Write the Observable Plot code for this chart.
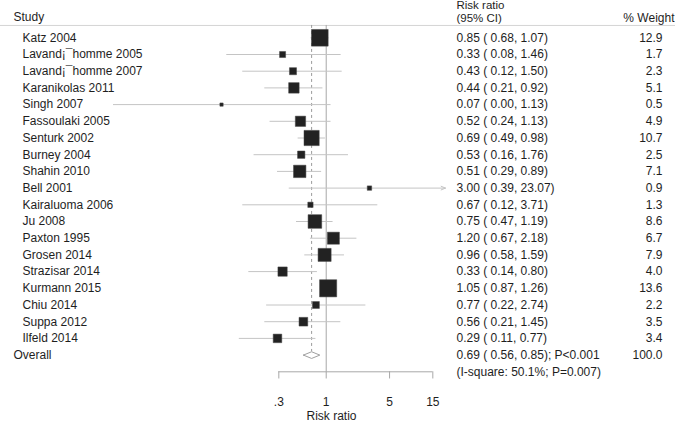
<!DOCTYPE html>
<html>
<head>
<meta charset="utf-8">
<script src="https://cdn.jsdelivr.net/npm/d3@7"></script>
<script src="https://cdn.jsdelivr.net/npm/@observablehq/plot@0.6"></script>
<style>
  html, body { margin: 0; padding: 0; background: #fff; }
  #chart svg { display: block; }
</style>
</head>
<body>
<div id="chart"></div>
<script>
// ---- data ----
const studies = ["Katz 2004","Lavand¡¯homme 2005","Lavand¡¯homme 2007","Karanikolas 2011","Singh 2007","Fassoulaki 2005","Senturk 2002","Burney 2004","Shahin 2010","Bell 2001","Kairaluoma 2006","Ju 2008","Paxton 1995","Grosen 2014","Strazisar 2014","Kurmann 2015","Chiu 2014","Suppa 2012","Ilfeld 2014"];
const rr     = [0.85,0.33,0.43,0.44,0.07,0.52,0.69,0.53,0.51,3.00,0.67,0.75,1.20,0.96,0.33,1.05,0.77,0.56,0.29];
const lower  = [0.68,0.08,0.12,0.21,0.00,0.24,0.49,0.16,0.29,0.39,0.12,0.47,0.67,0.58,0.14,0.87,0.22,0.21,0.11];
const upper  = [1.07,1.46,1.50,0.92,1.13,1.13,0.98,1.76,0.89,23.07,3.71,1.19,2.18,1.59,0.80,1.26,2.74,1.45,0.77];
const weight = [12.9,1.7,2.3,5.1,0.5,4.9,10.7,2.5,7.1,0.9,1.3,8.6,6.7,7.9,4.0,13.6,2.2,3.5,3.4];

const overallLabel = "Overall";
const overall = {rr: 0.69, lo: 0.56, hi: 0.85, weight: "100.0"};
const overallText = "0.69 ( 0.56, 0.85); P<0.001";
const heteroText = "(I-square: 50.1%; P=0.007)";

const tickValues = [0.3, 1, 5, 15];
const tickLabels = [".3", "1", "5", "15"];
const axisTitle = "Risk ratio";
const headerStudy = "Study";
const headerRR = ["Risk ratio", "(95% CI)"];
const headerWeight = "% Weight";

// plot window of the log axis (CIs beyond it are clipped)
const xMin = 0.0045, xMax = 20.7;

// ---- derived table ----
const rows = studies.map((s, i) => ({
  study: s, row: i, rr: rr[i], lo: lower[i], hi: upper[i], w: weight[i],
  x1: Math.max(lower[i], xMin), x2: Math.min(upper[i], xMax),
  clippedHi: upper[i] > xMax,
  rrText: `${rr[i].toFixed(2)} ( ${lower[i].toFixed(2)}, ${upper[i].toFixed(2)})`,
  wText: weight[i].toFixed(1)
}));
const overallRow = studies.length;       // 19
const axisRow = overallRow + 1;          // 20
const diamond = [
  {x: overall.lo, y: overallRow},
  {x: overall.rr, y: overallRow - 0.2},
  {x: overall.hi, y: overallRow},
  {x: overall.rr, y: overallRow + 0.2},
  {x: overall.lo, y: overallRow}
];
const headerRow = -0.74;
const ticks = tickValues.map((v, i) => ({v, label: tickLabels[i]}));

const font = "'Liberation Sans', Arial, Helvetica, sans-serif";
const ink = "#1e1e1e";

const chart = Plot.plot({
  width: 675,
  height: 422,
  margin: 0,
  style: {fontFamily: font, fontSize: "12px", background: "#fff", color: ink},
  x: {type: "log", domain: [xMin, xMax], range: [113, 445], axis: null},
  y: {type: "linear", domain: [0, axisRow], range: [37.3, 371.3], axis: null},
  r: {type: "sqrt", domain: [0, 13.6], range: [0, 9.68]},
  marks: [
    // header separator
    Plot.ruleY([headerRow], {stroke: "#d4d4d4", strokeWidth: 1}),
    // header texts
    Plot.text([headerStudy], {frameAnchor: "left", y: [-1.23], dx: 13, textAnchor: "start", fill: ink, fontSize: 12}),
    Plot.text([headerRR[0]], {frameAnchor: "left", y: [-1.96], dx: 456, textAnchor: "start", fill: ink, fontSize: 11.5}),
    Plot.text([headerRR[1]], {frameAnchor: "left", y: [-1.15], dx: 456, textAnchor: "start", fill: ink, fontSize: 11.5}),
    Plot.text([headerWeight], {frameAnchor: "right", y: [-1.17], dx: -1, textAnchor: "end", fill: ink, fontSize: 12}),
    // reference line at 1
    Plot.ruleX([1], {y1: headerRow, y2: axisRow, stroke: "#a8a8a8", strokeWidth: 1}),
    // dashed line at overall estimate
    Plot.ruleX([overall.rr], {y1: headerRow, y2: overallRow - 0.2, stroke: "#9a9a9a", strokeWidth: 1, strokeDasharray: "3,3"}),
    // CI lines
    Plot.ruleY(rows.filter(d => !d.clippedHi), {y: "row", x1: "x1", x2: "x2", stroke: "#c4c4c4", strokeWidth: 1}),
    Plot.arrow(rows.filter(d => d.clippedHi), {x1: "x1", x2: "x2", y1: "row", y2: "row", stroke: "#c4c4c4", strokeWidth: 1, headLength: 7, headAngle: 45}),
    // squares
    Plot.dot(rows, {x: "rr", y: "row", r: "w", symbol: "square", fill: "#222", stroke: "#444", strokeWidth: 0.5}),
    // overall diamond
    Plot.line(diamond, {x: "x", y: "y", stroke: "#a0a0a0", strokeWidth: 1}),
    // study labels
    Plot.text(rows, {frameAnchor: "left", y: "row", text: "study", dx: 22, textAnchor: "start", fill: ink, fontSize: 12}),
    Plot.text([overallLabel], {frameAnchor: "left", y: [overallRow], dx: 13, textAnchor: "start", fill: ink, fontSize: 12}),
    // RR column
    Plot.text(rows, {frameAnchor: "left", y: "row", text: "rrText", dx: 456, textAnchor: "start", fill: ink, fontSize: 12}),
    Plot.text([overallText], {frameAnchor: "left", y: [overallRow], dx: 456, textAnchor: "start", fill: ink, fontSize: 12}),
    Plot.text([heteroText], {frameAnchor: "left", y: [axisRow], dx: 456, textAnchor: "start", fill: ink, fontSize: 12}),
    // weight column
    Plot.text(rows, {frameAnchor: "right", y: "row", text: "wText", dx: -13, textAnchor: "end", fill: ink, fontSize: 12}),
    Plot.text([overall.weight], {frameAnchor: "right", y: [overallRow], dx: -13, textAnchor: "end", fill: ink, fontSize: 12}),
    // x axis
    Plot.ruleY([axisRow], {x1: tickValues[0], x2: tickValues[tickValues.length - 1], stroke: "#a8a8a8", strokeWidth: 1}),
    Plot.ruleX(ticks, {x: "v", y1: axisRow, y2: axisRow + 0.43, stroke: "#a8a8a8", strokeWidth: 1}),
    Plot.text(ticks, {x: "v", y: axisRow + 1.82, text: "label", textAnchor: "middle", fill: ink, fontSize: 12}),
    Plot.text([axisTitle], {frameAnchor: "left", y: [axisRow + 2.63], dx: 331, textAnchor: "middle", fill: ink, fontSize: 12})
  ]
});
document.getElementById("chart").appendChild(chart);
</script>
</body>
</html>
